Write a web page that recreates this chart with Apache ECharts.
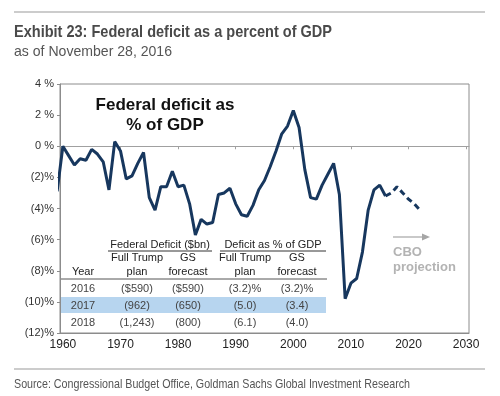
<!DOCTYPE html>
<html>
<head>
<meta charset="utf-8">
<script src="https://cdn.jsdelivr.net/npm/echarts@6/dist/echarts.min.js"></script>
<style>
    html, body { margin: 0; padding: 0; background: #fff; }
    #chart { width: 500px; height: 396px; }
</style>
</head>
<body>
<div id="chart"></div>
<script>
// historical deficit, % of GDP (fiscal years)
var histYears = [1959, 1960, 1961, 1962, 1963, 1964, 1965, 1966, 1967, 1968, 1969,
    1970, 1971, 1972, 1973, 1974, 1975, 1976, 1977, 1978, 1979,
    1980, 1981, 1982, 1983, 1984, 1985, 1986, 1987, 1988, 1989,
    1990, 1991, 1992, 1993, 1994, 1995, 1996, 1997, 1998, 1999,
    2000, 2001, 2002, 2003, 2004, 2005, 2006, 2007, 2008, 2009,
    2010, 2011, 2012, 2013, 2014, 2015, 2016];
var histValues = [-2.9, 0.0, -0.6, -1.2, -0.8, -0.9, -0.2, -0.5, -1.0, -2.8, 0.3,
    -0.3, -2.1, -1.9, -1.1, -0.4, -3.3, -4.1, -2.6, -2.6, -1.6,
    -2.6, -2.5, -3.7, -5.7, -4.7, -5.0, -4.9, -3.1, -3.0, -2.7,
    -3.7, -4.4, -4.5, -3.8, -2.8, -2.2, -1.3, -0.3, 0.8, 1.3,
    2.3, 1.2, -1.5, -3.3, -3.4, -2.5, -1.8, -1.1, -3.1, -9.8,
    -8.8, -8.5, -6.8, -4.1, -2.8, -2.5, -3.2];
// CBO projection
var cboYears = [2016, 2017, 2018, 2019, 2020, 2021, 2022];
var cboValues = [-3.2, -3.0, -2.6, -3.0, -3.4, -3.7, -4.1];

var decadeLabels = [1960, 1970, 1980, 1990, 2000, 2010, 2020, 2030];

// table in the plot
var tableYears = ["2016", "2017", "2018"];
var trumpBn = ["($590)", "(962)", "(1,243)"];
var gsBn = ["($590)", "(650)", "(800)"];
var trumpPct = ["(3.2)%", "(5.0)", "(6.1)"];
var gsPct = ["(3.2)%", "(3.4)", "(4.0)"];

var titleText = "Exhibit 23: Federal deficit as a percent of GDP";
var subText = "as of November 28, 2016";
var sourceText = "Source: Congressional Budget Office, Goldman Sachs Global Investment Research";

var lineColor = "#17375e";
var font = "Arial, 'Liberation Sans', sans-serif";

function pairs(xs, ys) {
    var out = [];
    for (var i = 0; i < xs.length; i++) {
        out.push([xs[i], ys[i]]);
    }
    return out;
}

function pctLabel(v) {
    if (v > 0) return v + " %";
    if (v === 0) return "0 %";
    return "(" + (-v) + ")%";
}

// the report uses a condensed face, so squeeze a normal one to the same width
var ctx = document.createElement("canvas").getContext("2d");
function squeezed(s, fontStr, x, y, width, color) {
    ctx.font = fontStr;
    var w = ctx.measureText(s).width;
    return {
        type: "text", x: x, y: y, z: 10,
        scaleX: width / w, originX: 0, originY: 0,
        style: {text: s, font: fontStr, fill: color, align: "left", verticalAlign: "middle"}
    };
}

// table graphics
var colX = [83, 137, 188, 245, 297];
var rowY = [289, 306, 323];
var tableEls = [];
function txt(x, y, s, color) {
    tableEls.push({
        type: "text", x: x, y: y, z: 10,
        style: {
            text: s, align: "center", verticalAlign: "middle",
            font: "11px " + font, fill: color || "#333"
        }
    });
}
function hline(x1, x2, y, color) {
    tableEls.push({
        type: "line", z: 10,
        shape: {x1: x1, y1: y, x2: x2, y2: y},
        style: {stroke: color || "#444", lineWidth: 1}
    });
}
// highlight row 2017
tableEls.push({
    type: "rect", z: 5,
    shape: {x: 61, y: 297, width: 265, height: 16},
    style: {fill: "#b7d5ef"}
});
txt(160, 245, "Federal Deficit ($bn)", "#222");
hline(108, 212, 251, "#333");
txt(273, 245, "Deficit as % of GDP", "#222");
hline(220, 326, 251, "#333");
txt(colX[1], 258, "Full Trump", "#222");
txt(colX[2], 258, "GS", "#222");
txt(colX[3], 258, "Full Trump", "#222");
txt(colX[4], 258, "GS", "#222");
txt(colX[0], 272, "Year", "#222");
txt(colX[1], 272, "plan", "#222");
txt(colX[2], 272, "forecast", "#222");
txt(colX[3], 272, "plan", "#222");
txt(colX[4], 272, "forecast", "#222");
hline(61, 327, 279, "#555");
for (var r = 0; r < tableYears.length; r++) {
    txt(colX[0], rowY[r], tableYears[r], "#444");
    txt(colX[1], rowY[r], trumpBn[r], "#444");
    txt(colX[2], rowY[r], gsBn[r], "#444");
    txt(colX[3], rowY[r], trumpPct[r], "#444");
    txt(colX[4], rowY[r], gsPct[r], "#444");
}

var chart = echarts.init(document.getElementById("chart"));
var option = {
    animation: false,
    backgroundColor: "#fff",
    grid: {
        left: 60, right: 31, top: 84, bottom: 63,
        show: true, borderColor: "#8c8c8c", borderWidth: 1,
        containLabel: false
    },
    xAxis: [{
        type: "value",
        min: 1959.5, max: 2030.5,
        position: "bottom",
        axisLine: {onZero: false, lineStyle: {color: "#8c8c8c"}},
        axisTick: {show: false},
        splitLine: {show: false},
        axisLabel: {
            customValues: decadeLabels,
            formatter: function (v) { return String(v); },
            color: "#222", fontFamily: font, fontSize: 12, margin: 6
        }
    }, {
        type: "value",
        min: 1959.5, max: 2030.5,
        position: "bottom",
        axisLine: {onZero: true, lineStyle: {color: "#a0a0a0"}},
        axisTick: {customValues: decadeLabels, length: 3, lineStyle: {color: "#a0a0a0"}},
        splitLine: {show: false},
        axisLabel: {show: false}
    }],
    yAxis: {
        type: "value",
        min: -12, max: 4, interval: 2,
        axisLine: {show: true, lineStyle: {color: "#8c8c8c"}},
        axisTick: {show: true, length: 3, lineStyle: {color: "#8c8c8c"}},
        splitLine: {show: false},
        axisLabel: {
            formatter: pctLabel,
            color: "#333", fontFamily: font, fontSize: 11, margin: 6
        }
    },
    graphic: [
        squeezed(titleText, "bold 17px " + font, 14, 32, 318, "#4a4a4a"),
        squeezed(subText, "15px " + font, 14, 52, 158, "#555"),
        squeezed(sourceText, "13px " + font, 14, 384, 396, "#555"),
        {
            type: "text", x: 165, y: 115, z: 10,
            style: {
                text: "Federal deficit as\n% of GDP", align: "center", verticalAlign: "middle",
                font: "bold 17px " + font, fill: "#111", lineHeight: 20
            }
        }, {
            type: "line", z: 10,
            shape: {x1: 393, y1: 237, x2: 423, y2: 237},
            style: {stroke: "#a6a6a6", lineWidth: 1.2}
        }, {
            type: "polygon", z: 10,
            shape: {points: [[430, 237], [422, 233.5], [422, 240.5]]},
            style: {fill: "#a6a6a6"}
        }, {
            type: "text", x: 393, y: 260, z: 10,
            style: {
                text: "CBO\nprojection", align: "left", verticalAlign: "middle",
                font: "bold 13px " + font, fill: "#b3b3b3", lineHeight: 15
            }
        }, {
            type: "line", z: 10,
            shape: {x1: 14, y1: 12, x2: 485, y2: 12},
            style: {stroke: "#999", lineWidth: 1}
        }, {
            type: "line", z: 10,
            shape: {x1: 14, y1: 369, x2: 485, y2: 369},
            style: {stroke: "#999", lineWidth: 1}
        }
    ].concat(tableEls),
    series: [{
        name: "Federal deficit",
        type: "line",
        xAxisIndex: 0,
        data: pairs(histYears, histValues),
        showSymbol: false,
        clip: true,
        lineStyle: {color: lineColor, width: 3}
    }, {
        name: "CBO projection",
        type: "line",
        xAxisIndex: 0,
        data: pairs(cboYears, cboValues),
        showSymbol: false,
        clip: true,
        lineStyle: {color: lineColor, width: 3, type: [6, 4]}
    }]
};
chart.setOption(option);
</script>
</body>
</html>
